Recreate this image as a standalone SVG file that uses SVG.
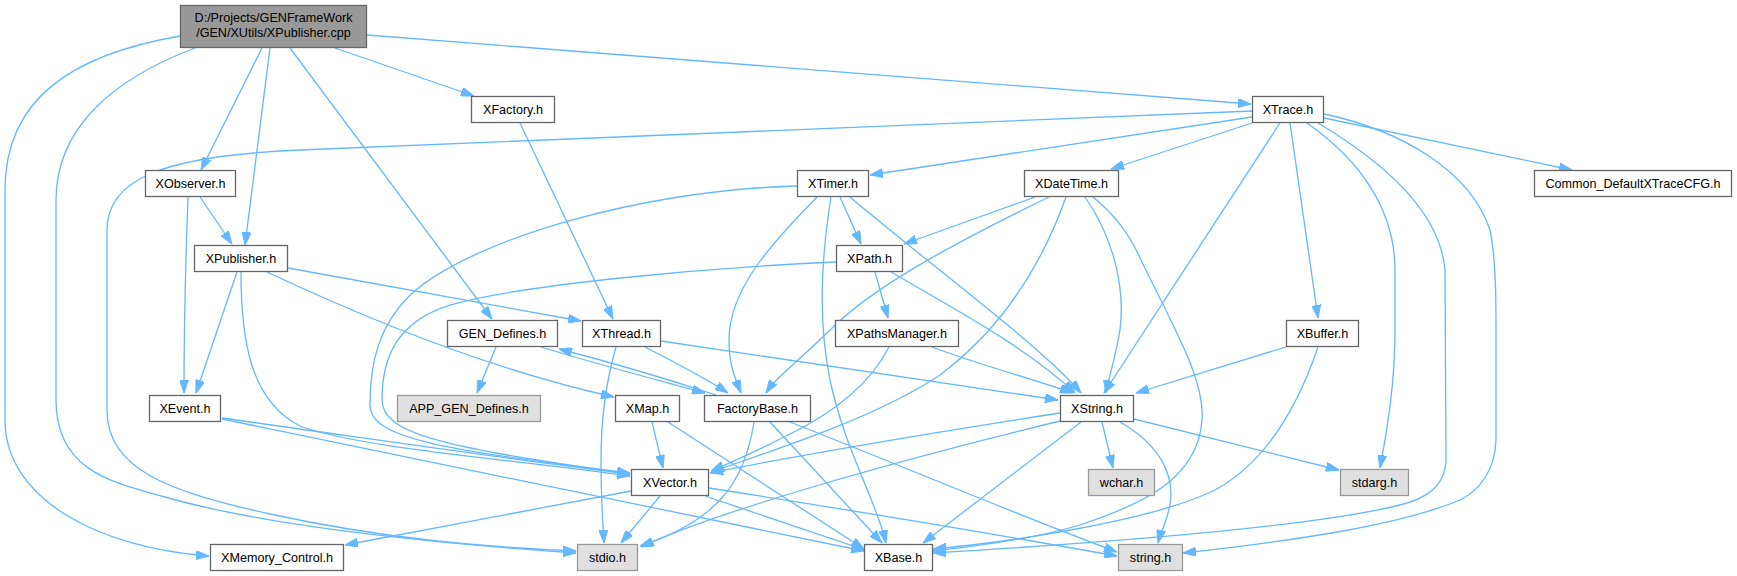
<svg xmlns="http://www.w3.org/2000/svg" width="1737" height="576" viewBox="0 0 1737 576">
<defs>
<marker id="a" viewBox="0 0 13 9" refX="13" refY="4.5" markerWidth="13" markerHeight="9" markerUnits="userSpaceOnUse" orient="auto"><path d="M0,0 L13,4.5 L0,9 z" fill="#63b8ff" stroke="#63b8ff" stroke-width="1"/></marker>
<style>
.n rect{fill:#ffffff;stroke:#666666;stroke-width:1.3}
.g rect{fill:#e0e0e0;stroke:#999999;stroke-width:1.3}
.m rect{fill:#999999;stroke:#666666;stroke-width:1.3}
text{font-family:"Liberation Sans",Arial,Helvetica,sans-serif;font-size:12.6px;text-anchor:middle;fill:#000000}
#edges path{fill:none;stroke:#63b8ff;stroke-width:1.3;marker-end:url(#a)}
</style>
</defs>
<rect width="1737" height="576" fill="#ffffff"/>
<g id="edges">
<path d="M180,36 C70,55 5,100 5,190 L5,420 C5,500 100,548 209,556"/>
<path d="M195,48 C110,80 56,130 56,200 L56,400 C56,470 110,482 165,497 C280,530 460,545 576,553"/>
<path d="M1252,111 L300,150 C160,156 107,180 107,230 L107,410 C107,470 170,492 270,514 C380,538 480,547 576,551"/>
<path d="M262,48 L201,170"/>
<path d="M270,48 L245,245"/>
<path d="M290,48 L492,319"/>
<path d="M335,48 L474,96"/>
<path d="M367,35 L1251,104"/>
<path d="M520,123 L613,319"/>
<path d="M200,197 L232,244"/>
<path d="M188,197 C186,250 184,330 184,393"/>
<path d="M237,272 L196,393"/>
<path d="M288,268 L581,321"/>
<path d="M267,272 C380,325 500,372 614,397"/>
<path d="M241,272 C241,340 250,400 300,426 C360,448 500,458 630,476"/>
<path d="M222,418 C380,440 500,458 630,474"/>
<path d="M222,419 C450,466 700,518 864,551"/>
<path d="M797,186 C640,190 470,240 410,295 C380,325 370,360 370,405 C370,440 450,450 630,473"/>
<path d="M836,262 C700,268 520,285 450,305 C395,322 382,360 382,400 C382,435 450,448 630,474"/>
<path d="M817,197 C770,245 729,290 729,340 C729,365 735,378 741,393"/>
<path d="M831,197 C821,260 818,320 830,380 C845,450 876,500 886,543"/>
<path d="M840,197 L861,244"/>
<path d="M850,197 C930,265 1040,345 1081,393"/>
<path d="M875,272 L888,318"/>
<path d="M891,272 C960,312 1030,350 1075,393"/>
<path d="M932,347 C980,365 1030,378 1073,393"/>
<path d="M661,341 L1058,400"/>
<path d="M889,347 C868,388 828,416 786,436 C755,452 732,462 711,471"/>
<path d="M1066,197 C1040,270 1000,330 940,375 C880,415 790,445 711,472"/>
<path d="M1049,197 C940,250 870,290 830,330 C800,360 778,375 766,393"/>
<path d="M1035,197 L904,244"/>
<path d="M1085,197 C1115,240 1125,290 1120,330 C1115,360 1108,380 1106,393"/>
<path d="M1093,197 C1115,215 1130,235 1140,258 C1175,330 1205,380 1202,420 C1198,480 1140,505 1080,525 C1030,540 970,547 933,551"/>
<path d="M645,347 C670,360 700,375 728,393"/>
<path d="M541,347 C600,365 650,378 705,393"/>
<path d="M716,395 C670,380 610,362 559,349"/>
<path d="M496,347 L477,393"/>
<path d="M616,347 C605,385 601,420 601,460 C601,500 603,525 604,543"/>
<path d="M754,422 C745,480 720,520 640,546"/>
<path d="M1060,421 C900,460 720,510 641,547"/>
<path d="M1060,413 C950,430 800,455 710,473"/>
<path d="M1081,422 L923,543"/>
<path d="M1102,422 L1113,468"/>
<path d="M1120,422 C1160,445 1175,475 1170,505 C1167,520 1160,535 1158,543"/>
<path d="M1134,419 L1339,470"/>
<path d="M1286,347 L1136,393"/>
<path d="M1318,347 C1300,400 1270,460 1215,490 C1150,522 1000,543 933,549"/>
<path d="M1318,123 C1380,160 1440,210 1445,270 L1446,460 C1445,490 1420,500 1400,505 C1300,530 1050,546 933,553"/>
<path d="M1324,114 C1400,130 1470,170 1490,230 C1496,260 1496,300 1496,330 L1496,440 C1495,470 1480,490 1460,500 C1400,525 1300,540 1183,553"/>
<path d="M1307,123 C1360,160 1395,210 1395,270 L1395,330 C1395,390 1385,440 1380,468"/>
<path d="M1290,123 L1318,318"/>
<path d="M1280,123 L1104,393"/>
<path d="M1324,118 L1572,170"/>
<path d="M1252,123 L1111,169"/>
<path d="M1252,117 L870,175"/>
<path d="M770,422 L882,543"/>
<path d="M790,422 C900,465 1010,512 1117,552"/>
<path d="M652,422 L663,468"/>
<path d="M668,422 L864,549"/>
<path d="M705,496 L865,550"/>
<path d="M709,488 C850,510 1000,535 1117,556"/>
<path d="M660,496 L621,543"/>
<path d="M631,491 L345,545"/>
</g>
<g id="n-main" class="m"><rect x="180.5" y="5.5" width="186" height="42"/><text x="273.5" y="21.5">D:/Projects/GENFrameWork</text><text x="273.5" y="36.5">/GEN/XUtils/XPublisher.cpp</text></g>
<g id="n-xfactory" class="n"><rect x="471.5" y="96.5" width="83" height="26"/><text x="513" y="114">XFactory.h</text></g>
<g id="n-xtrace" class="n"><rect x="1252.5" y="96.5" width="71" height="26"/><text x="1288" y="114">XTrace.h</text></g>
<g id="n-xobserver" class="n"><rect x="145.5" y="170.5" width="90" height="26"/><text x="190.5" y="188">XObserver.h</text></g>
<g id="n-xtimer" class="n"><rect x="797.5" y="170.5" width="71" height="26"/><text x="833" y="188">XTimer.h</text></g>
<g id="n-xdatetime" class="n"><rect x="1024.5" y="170.5" width="94" height="26"/><text x="1071.5" y="188">XDateTime.h</text></g>
<g id="n-common" class="n"><rect x="1534.5" y="170.5" width="197" height="26"/><text x="1633" y="188">Common_DefaultXTraceCFG.h</text></g>
<g id="n-xpublisher" class="n"><rect x="194.5" y="245.5" width="93" height="26"/><text x="241" y="263">XPublisher.h</text></g>
<g id="n-xpath" class="n"><rect x="836.5" y="245.5" width="66" height="26"/><text x="869.5" y="263">XPath.h</text></g>
<g id="n-gendefines" class="n"><rect x="447.5" y="320.5" width="110" height="26"/><text x="502.5" y="338">GEN_Defines.h</text></g>
<g id="n-xthread" class="n"><rect x="582.5" y="320.5" width="78" height="26"/><text x="621.5" y="338">XThread.h</text></g>
<g id="n-xpathsmanager" class="n"><rect x="835.5" y="320.5" width="123" height="26"/><text x="897" y="338">XPathsManager.h</text></g>
<g id="n-xbuffer" class="n"><rect x="1286.5" y="320.5" width="72" height="26"/><text x="1322.5" y="338">XBuffer.h</text></g>
<g id="n-appgendefines" class="g"><rect x="397.5" y="395.5" width="143" height="26"/><text x="469" y="413">APP_GEN_Defines.h</text></g>
<g id="n-xevent" class="n"><rect x="149.5" y="395.5" width="71" height="26"/><text x="185" y="413">XEvent.h</text></g>
<g id="n-xmap" class="n"><rect x="615.5" y="395.5" width="64" height="26"/><text x="647.5" y="413">XMap.h</text></g>
<g id="n-factorybase" class="n"><rect x="704.5" y="395.5" width="106" height="26"/><text x="757.5" y="413">FactoryBase.h</text></g>
<g id="n-xstring" class="n"><rect x="1060.5" y="395.5" width="73" height="26"/><text x="1097" y="413">XString.h</text></g>
<g id="n-xvector" class="n"><rect x="631.5" y="469.5" width="77" height="26"/><text x="670" y="487">XVector.h</text></g>
<g id="n-wchar" class="g"><rect x="1088.5" y="469.5" width="66" height="26"/><text x="1121.5" y="487">wchar.h</text></g>
<g id="n-stdarg" class="g"><rect x="1340.5" y="469.5" width="68" height="26"/><text x="1374.5" y="487">stdarg.h</text></g>
<g id="n-xmemory" class="n"><rect x="210.5" y="544.5" width="133" height="26"/><text x="277" y="562">XMemory_Control.h</text></g>
<g id="n-stdio" class="g"><rect x="577.5" y="544.5" width="60" height="26"/><text x="607.5" y="562">stdio.h</text></g>
<g id="n-xbase" class="n"><rect x="864.5" y="544.5" width="68" height="26"/><text x="898.5" y="562">XBase.h</text></g>
<g id="n-string" class="g"><rect x="1118.5" y="544.5" width="64" height="26"/><text x="1150.5" y="562">string.h</text></g>
</svg>
